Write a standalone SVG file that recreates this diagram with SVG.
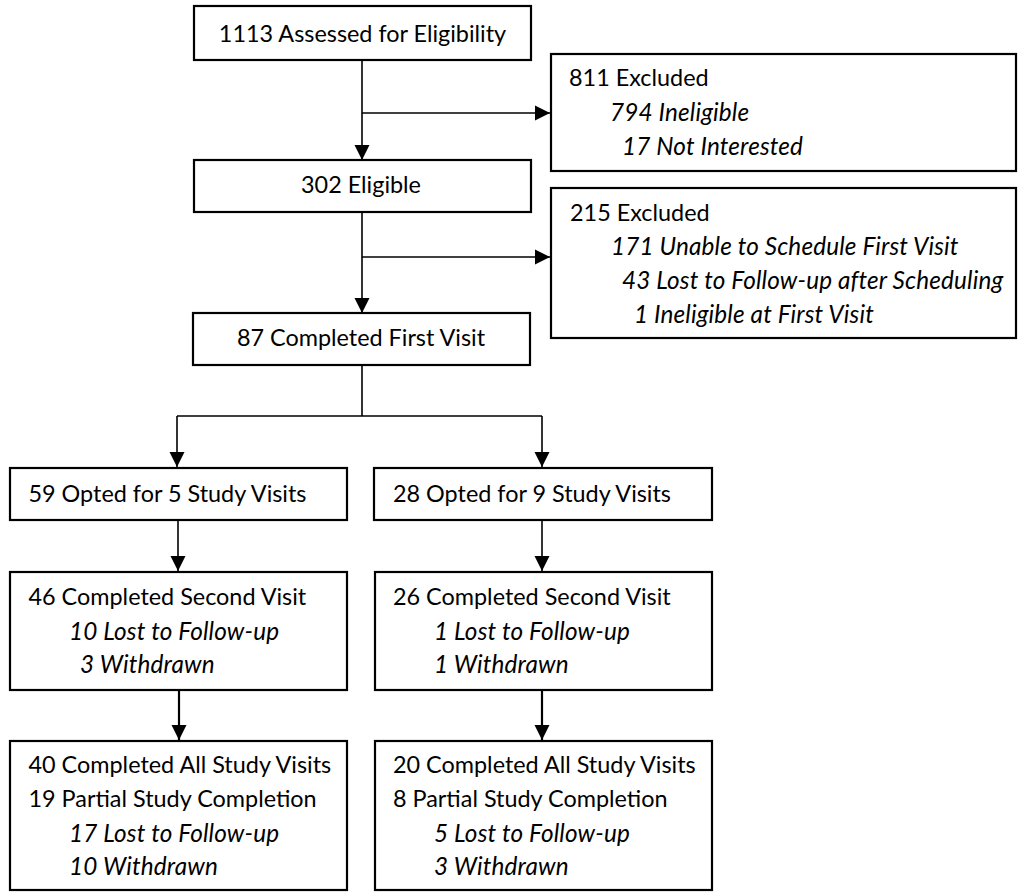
<svg xmlns="http://www.w3.org/2000/svg" width="1019" height="892" viewBox="0 0 1019 892">
<style>
.box{fill:#fff;stroke:#000;stroke-width:2.2}
.t{font-family:Lato,"Liberation Sans",sans-serif;font-size:23.4px;fill:#000}
.i{font-style:italic;font-size:24.3px;letter-spacing:0.15px}
.c{text-anchor:middle}
.ln{fill:none;stroke:#000;stroke-width:1.6}
.lt{fill:none;stroke:#000;stroke-width:2.2}
</style>
<defs>
<marker id="ah" markerUnits="userSpaceOnUse" markerWidth="16" markerHeight="16" viewBox="0 0 16 16" refX="15" refY="8" orient="auto">
<path d="M0,0.5 L15,8 L0,15.5 Z" fill="#000"/>
</marker>
</defs>
<rect width="1019" height="892" fill="#fff"/>
<g id="connectors">
<path class="ln" d="M362,60 V160" marker-end="url(#ah)"/>
<path class="ln" d="M362,113 H550" marker-end="url(#ah)"/>
<path class="ln" d="M362,212 V313" marker-end="url(#ah)"/>
<path class="ln" d="M362,257 H550" marker-end="url(#ah)"/>
<path class="ln" d="M362,365 V416 M177,416 H542"/>
<path class="ln" d="M177,416 V467" marker-end="url(#ah)"/>
<path class="ln" d="M542,416 V467" marker-end="url(#ah)"/>
<path class="ln" d="M178,520 V571" marker-end="url(#ah)"/>
<path class="ln" d="M542,520 V571" marker-end="url(#ah)"/>
<path class="lt" d="M179,690 V740" marker-end="url(#ah)"/>
<path class="lt" d="M542,690 V740" marker-end="url(#ah)"/>
</g>
<g id="n1">
<rect class="box" x="194" y="6" width="337" height="54"/>
<text class="t c" x="362.5" y="42">1113 Assessed for Eligibility</text>
</g>
<g id="n2">
<rect class="box" x="194" y="160" width="337" height="52"/>
<text class="t c" x="361" y="193">302 Eligible</text>
</g>
<g id="n3">
<rect class="box" x="551" y="54" width="465" height="117"/>
<text class="t" x="569" y="86">811 Excluded</text>
<text class="t i" x="610" y="121">794 Ineligible</text>
<text class="t i" x="622" y="155">17 Not Interested</text>
</g>
<g id="n4">
<rect class="box" x="551" y="188" width="465" height="150"/>
<text class="t" x="570" y="221">215 Excluded</text>
<text class="t i" x="611" y="255">171 Unable to Schedule First Visit</text>
<text class="t i" x="622" y="289">43 Lost to Follow-up after Scheduling</text>
<text class="t i" x="634" y="323">1 Ineligible at First Visit</text>
</g>
<g id="n5">
<rect class="box" x="193" y="313" width="337" height="52"/>
<text class="t c" x="361" y="346">87 Completed First Visit</text>
</g>
<g id="n6">
<rect class="box" x="10" y="468" width="337" height="52"/>
<text class="t" x="28.5" y="502">59 Opted for 5 Study Visits</text>
</g>
<g id="n7">
<rect class="box" x="374" y="468" width="338" height="52"/>
<text class="t" x="393" y="502">28 Opted for 9 Study Visits</text>
</g>
<g id="n8">
<rect class="box" x="10" y="572" width="337" height="118"/>
<text class="t" x="28.5" y="605">46 Completed Second Visit</text>
<text class="t i" x="69" y="640">10 Lost to Follow-up</text>
<text class="t i" x="80" y="673">3 Withdrawn</text>
</g>
<g id="n9">
<rect class="box" x="375" y="572" width="337" height="118"/>
<text class="t" x="393" y="605">26 Completed Second Visit</text>
<text class="t i" x="434" y="640">1 Lost to Follow-up</text>
<text class="t i" x="434" y="673">1 Withdrawn</text>
</g>
<g id="n10">
<rect class="box" x="10" y="741" width="337" height="149"/>
<text class="t" x="28.5" y="773">40 Completed All Study Visits</text>
<text class="t" x="28.5" y="807">19 Partial Study Completion</text>
<text class="t i" x="69" y="842">17 Lost to Follow-up</text>
<text class="t i" x="69" y="875">10 Withdrawn</text>
</g>
<g id="n11">
<rect class="box" x="375" y="741" width="337" height="149"/>
<text class="t" x="393" y="773">20 Completed All Study Visits</text>
<text class="t" x="393" y="807">8 Partial Study Completion</text>
<text class="t i" x="434" y="842">5 Lost to Follow-up</text>
<text class="t i" x="434" y="875">3 Withdrawn</text>
</g>
</svg>
